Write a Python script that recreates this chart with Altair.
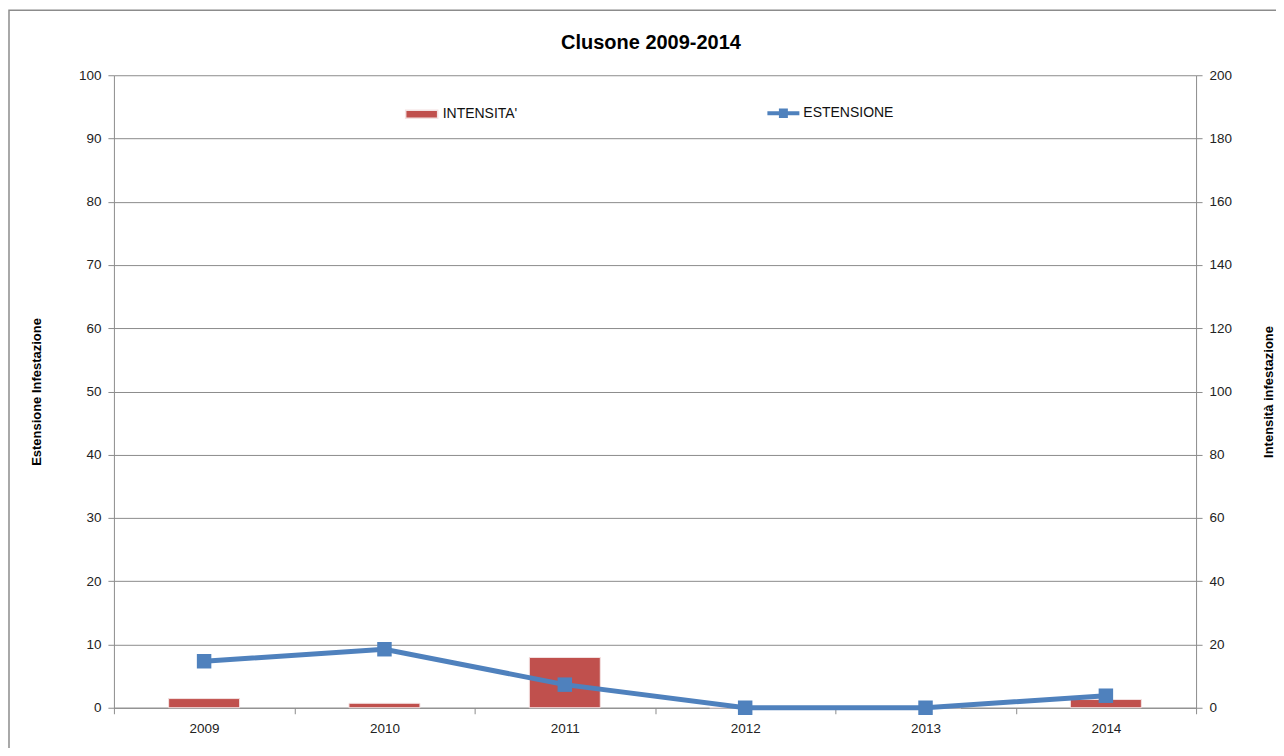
import altair as alt
import pandas as pd

years = ["2009", "2010", "2011", "2012", "2013", "2014"]
intensita = [2.9, 1.4, 15.9, 0, 0, 2.6]
estensione = [7.35, 9.25, 3.65, 0, 0, 1.9]

df = pd.DataFrame({
    "year": years,
    "intensita": intensita,
    "estensione": estensione,
    "s_bar": ["INTENSITA'"] * len(years),
    "s_line": ["ESTENSIONE"] * len(years),
})

FONT = "Liberation Sans"
GRID = "#8c8c8c"
RED = "#C0504D"
BLUE = "#4F81BD"

x_enc = alt.X(
    "year:N",
    title=None,
    sort=years,
    scale=alt.Scale(paddingInner=0, paddingOuter=0),
    axis=alt.Axis(
        labelAngle=0, tickBand="extent", tickSize=6, tickColor=GRID,
        domainColor=GRID, labelFont=FONT, labelFontSize=13.5, labelColor="#222",
        labelPadding=8, grid=False,
    ),
)

bars = alt.Chart(df).mark_bar(size=71, stroke="#f3e2e2", strokeWidth=1).encode(
    x=x_enc,
    y=alt.Y(
        "intensita:Q",
        scale=alt.Scale(domain=[0, 200]),
        axis=alt.Axis(
            orient="right", title="Intensità infestazione", values=list(range(0, 201, 20)),
            grid=False, tickSize=6, tickColor=GRID, domainColor=GRID,
            labelFont=FONT, labelFontSize=13.5, labelColor="#222", labelPadding=7,
            titleFont=FONT, titleFontSize=13, titleFontWeight="bold", titleAngle=270,
            titlePadding=44, titleColor="#000",
        ),
    ),
    color=alt.Color(
        "s_bar:N",
        scale=alt.Scale(domain=["INTENSITA'"], range=[RED]),
        legend=alt.Legend(
            title=None, orient="none", legendX=291, legendY=22,
            symbolType="M-1,-0.25H1V0.25H-1Z", symbolSize=1024,
            labelFont=FONT, labelFontSize=14, labelColor="#111", labelOffset=4,
            padding=0,
        ),
    ),
)

line = alt.Chart(df).mark_line(
    strokeWidth=5,
    point=alt.OverlayMarkDef(shape="square", size=210, filled=True, color=BLUE),
).encode(
    x=x_enc,
    y=alt.Y(
        "estensione:Q",
        scale=alt.Scale(domain=[0, 100]),
        axis=alt.Axis(
            orient="left", title="Estensione Infestazione", values=list(range(0, 101, 10)),
            grid=True, gridColor=GRID, gridWidth=1, tickSize=6, tickColor=GRID, domainColor=GRID,
            labelFont=FONT, labelFontSize=13.5, labelColor="#222", labelPadding=7,
            titleFont=FONT, titleFontSize=13, titleFontWeight="bold",
            titlePadding=35, titleColor="#000",
        ),
    ),
    color=alt.Color(
        "s_line:N",
        scale=alt.Scale(domain=["ESTENSIONE"], range=[BLUE]),
        legend=alt.Legend(
            title=None, orient="none", legendX=654, legendY=22,
            symbolType="M-1,-0.12H1V0.12H-1Z M-0.28,-0.3H0.28V0.3H-0.28Z", symbolSize=1024,
            symbolFillColor=BLUE, symbolStrokeWidth=0,
            labelFont=FONT, labelFontSize=14, labelColor="#111", labelOffset=4,
            padding=0,
        ),
    ),
)

border_df = pd.DataFrame({"k": [0]})
border = alt.Chart(border_df).mark_rect(
    fill="transparent", stroke="#8c8c8c", strokeWidth=1.5, clip=False
).encode(
    x=alt.value(-105), x2=alt.value(1200),
    y=alt.value(-65), y2=alt.value(720),
)

chart = alt.layer(bars, line, border).resolve_scale(
    y="independent", color="independent"
).properties(
    width=1083,
    height=633,
    padding={"left": 106, "top": 67, "right": 80, "bottom": 40},
    autosize=alt.AutoSizeParams(type="none"),
    title=alt.TitleParams(
        "Clusone 2009-2014", font=FONT, fontSize=20, fontWeight="bold",
        color="#000", anchor="middle", offset=-43, dx=-4,
    ),
).configure_view(stroke=None)

chart.save("out.html", embed_options={"renderer": "svg", "actions": False})
